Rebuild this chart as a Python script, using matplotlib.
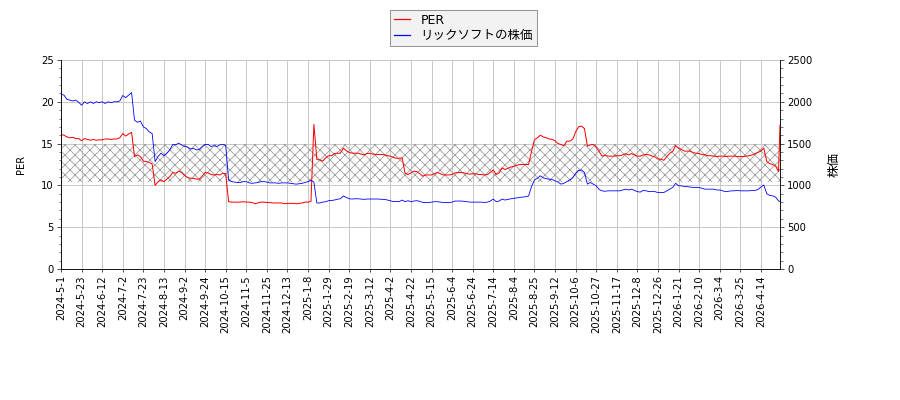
import numpy as np
import matplotlib
matplotlib.use('Agg')
import matplotlib.pyplot as plt
from matplotlib.ticker import MultipleLocator

plt.rcParams['font.family'] = ['DejaVu Sans', 'Noto Sans CJK JP']

# tick labels, one every 14 trading days
tick_labels = ['2024-5-1', '2024-5-23', '2024-6-12', '2024-7-2', '2024-7-23', '2024-8-13',
               '2024-9-2', '2024-9-24', '2024-10-15', '2024-11-5', '2024-11-25', '2024-12-13',
               '2025-1-8', '2025-1-29', '2025-2-19', '2025-3-12', '2025-4-2', '2025-4-22',
               '2025-5-15', '2025-6-4', '2025-6-24', '2025-7-14', '2025-8-4', '2025-8-25',
               '2025-9-12', '2025-10-6', '2025-10-27', '2025-11-17', '2025-12-8', '2025-12-26',
               '2026-1-21', '2026-2-10', '2026-3-4', '2026-3-25', '2026-4-14']
tick_every = 14

# trading day index of each sample (every other day, plus the last day)
day = np.r_[np.arange(0, 489, 2), 489]

# share price (yen)
price = [2090, 2080, 2030, 2020, 2010, 2020, 1995, 1960, 2000, 1980,
         2000, 1980, 2000, 1990, 2000, 1980, 2000, 1990, 2000, 2000,
         2010, 2075, 2050, 2080, 2110, 1780, 1755, 1770, 1700, 1680,
         1640, 1620, 1285, 1345, 1385, 1355, 1385, 1425, 1490, 1485,
         1505, 1485,
         1465, 1460, 1435, 1445, 1425, 1430, 1465, 1490, 1490, 1465,
         1475, 1465, 1485, 1490, 1480, 1065, 1045, 1040, 1035, 1035,
         1045, 1045, 1030, 1025, 1030, 1035, 1045, 1045, 1040, 1030,
         1030, 1030, 1025, 1030, 1030, 1030, 1025, 1020, 1015, 1020,
         1025,
         1035, 1045, 1060, 1040, 790, 790, 800, 805, 817, 820,
         825, 835, 840, 873, 857, 840, 837, 840, 840, 837,
         833, 837, 837, 837, 837, 837, 833, 833, 825, 817,
         805, 810, 805, 825, 805, 817, 805, 813, 817, 810,
         797,
         795, 795, 800, 805, 805, 800, 795, 795, 795, 800,
         813, 813, 813, 810, 805, 800, 800, 800, 800, 800,
         795, 800, 813, 837, 805, 813, 837, 825, 833, 840,
         845, 850, 857, 860, 865, 873, 985, 1065, 1085, 1115,
         1090,
         1080, 1075, 1070, 1055, 1040, 1015, 1025, 1045, 1065, 1090,
         1145, 1180, 1185, 1155, 1015, 1035, 1015, 995, 950, 935,
         930, 935, 935, 935, 935, 935, 945, 955, 945, 955,
         940, 925, 920, 940, 935, 925, 930, 925, 915, 915,
         915, 935, 955, 975, 1025, 995, 995, 985, 985, 980,
         975, 975, 975, 965, 955, 955, 955, 955, 945, 945,
         935, 925, 930, 935, 935, 940, 935, 935, 935, 935,
         940, 940, 950, 980, 1005, 900, 880, 875, 860, 815,
         805]

# PER
per = [16.1, 16.0, 15.8, 15.7, 15.75, 15.6, 15.6, 15.35, 15.6, 15.5,
       15.4, 15.5, 15.4, 15.45, 15.45, 15.55, 15.55, 15.5, 15.55, 15.55,
       15.7, 16.2, 15.9, 16.15, 16.35, 13.45, 13.65, 13.45, 12.9, 12.85,
       12.75, 12.55, 10.0, 10.45, 10.65, 10.45, 10.75, 11.05, 11.55, 11.45,
       11.7, 11.55,
       11.2, 10.95, 10.85, 10.85, 10.75, 10.75, 11.1, 11.55, 11.5, 11.3,
       11.25, 11.3, 11.25, 11.45, 11.4, 8.05, 8.0, 8.0, 8.0, 8.0,
       8.05, 8.0, 8.0, 7.95, 7.8, 7.9, 8.0, 8.0, 7.95, 7.95,
       7.9, 7.9, 7.9, 7.9, 7.8, 7.85, 7.85, 7.85, 7.8, 7.85,
       7.9,
       8.0, 8.0, 8.1, 17.3, 13.1, 13.05, 12.9, 13.3, 13.55, 13.55,
       13.8, 13.85, 13.85, 14.45, 14.15, 13.95, 13.85, 13.85, 13.85, 13.75,
       13.65, 13.8, 13.85, 13.75, 13.7, 13.7, 13.7, 13.65, 13.55, 13.5,
       13.35, 13.25, 13.25, 13.3, 11.45, 11.3, 11.5, 11.7, 11.65, 11.4,
       11.1,
       11.25, 11.25, 11.25, 11.4, 11.55, 11.4, 11.25, 11.25, 11.25, 11.3,
       11.5, 11.55, 11.55, 11.5, 11.4, 11.35, 11.4, 11.4, 11.3, 11.3,
       11.25, 11.3, 11.55, 11.85, 11.3, 11.5, 12.1, 11.9, 12.05, 12.2,
       12.3, 12.4, 12.5, 12.5, 12.5, 12.5, 14.05, 15.45, 15.7, 16.0,
       15.8,
       15.7, 15.55, 15.5, 15.35, 15.0, 14.9, 14.75, 15.3, 15.3, 15.5,
       16.4, 17.0, 17.1, 16.8, 14.7, 14.85, 14.9, 14.55, 14.05, 13.5,
       13.6, 13.5, 13.5, 13.5, 13.55, 13.55, 13.65, 13.8, 13.65, 13.8,
       13.65, 13.5, 13.5, 13.65, 13.7, 13.65, 13.5, 13.4, 13.15, 13.15,
       13.0, 13.45, 13.85, 14.05, 14.75, 14.45, 14.3, 14.1, 14.1, 14.1,
       13.9, 13.85, 13.8, 13.7, 13.65, 13.55, 13.55, 13.5, 13.45, 13.5,
       13.5, 13.45, 13.5, 13.5, 13.5, 13.45, 13.45, 13.45, 13.5, 13.55,
       13.65, 13.8, 13.95, 14.1, 14.45, 12.85, 12.6, 12.5, 12.3, 11.65,
       17.2]

# PER band shaded with hatch
per_band = (10.4, 15.0)

dpi = 60
fig = plt.figure(figsize=(900 / dpi, 400 / dpi), dpi=dpi)
ax1 = fig.add_axes([61 / 900, 1 - 269 / 400, 719 / 900, 209 / 400])
ax2 = ax1.twinx()

ax1.axhspan(per_band[0], per_band[1], facecolor='none', edgecolor='#a0a0a0',
            hatch='xx', linewidth=0, zorder=1)
l1, = ax1.plot(day, per, color='red', linewidth=1.2, zorder=3, label='PER')
l2, = ax2.plot(day, price, color='blue', linewidth=1.0, label='リックソフトの株価')

ax1.set_xlim(day[0], day[-1])
ax1.set_ylim(0, 25)
ax2.set_ylim(0, 2500)
ax1.yaxis.set_major_locator(MultipleLocator(5))
ax1.yaxis.set_minor_locator(MultipleLocator(1))
ax2.yaxis.set_major_locator(MultipleLocator(500))
ax2.yaxis.set_minor_locator(MultipleLocator(100))

ax1.set_xticks(np.arange(len(tick_labels)) * tick_every)
ax1.set_xticklabels(tick_labels, rotation=90, fontsize=12)
ax1.tick_params(axis='y', labelsize=12, length=5)
ax1.tick_params(axis='y', which='minor', length=3)
ax2.tick_params(axis='y', labelsize=12, length=5)
ax2.tick_params(axis='y', which='minor', length=3)
ax1.tick_params(axis='x', length=4)

ax1.grid(True, color='#c8c8c8', linewidth=1.2)
ax1.set_axisbelow(True)
for ax in (ax1, ax2):
    ax.spines['top'].set_visible(False)

ax1.set_ylabel('PER', fontsize=12, labelpad=18)
ax2.set_ylabel('株価', fontsize=15, labelpad=18)

leg = fig.legend(handles=[l1, l2], loc='upper center', bbox_to_anchor=(0.515, 0.975),
                 fontsize=15, fancybox=False, edgecolor='#808080', facecolor='#f2f2f2',
                 framealpha=1, borderaxespad=0, handlelength=1.3, handletextpad=0.8,
                 labelspacing=0.2, borderpad=0.3)
for h in leg.legend_handles:
    h.set_linewidth(1.5)

fig.savefig('out.png', dpi=dpi)
